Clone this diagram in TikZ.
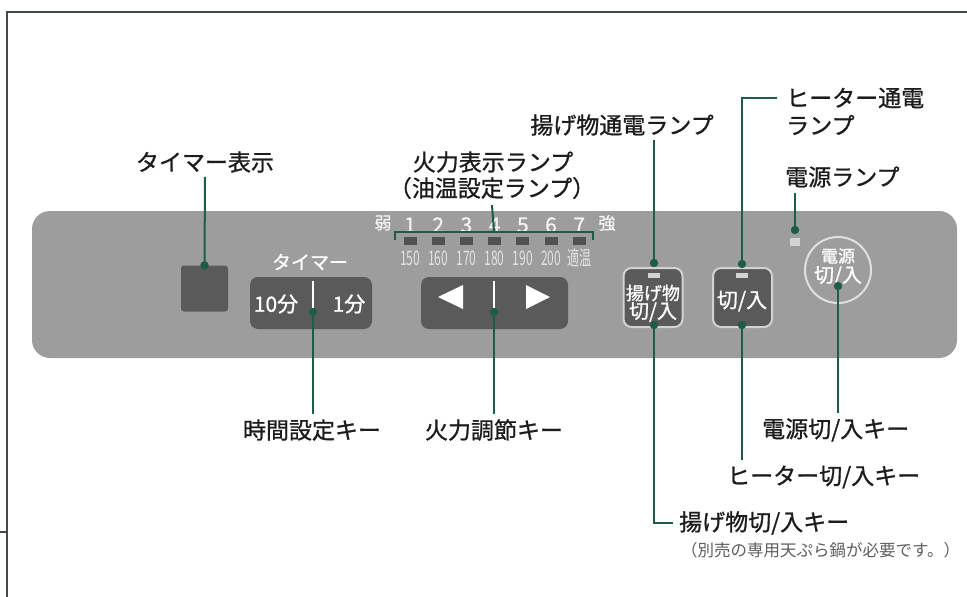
\documentclass[tikz,border=0pt]{standalone}
\usepackage{fontspec}
\setmainfont{Noto Sans CJK JP}[FakeBold=0.9]
\newfontfamily\plainjp{Noto Sans CJK JP}
\usepackage{graphicx}
\definecolor{panelc}{HTML}{9D9D9D}
\definecolor{btnc}{HTML}{5A5A5A}
\definecolor{framec}{HTML}{3F4D48}
\definecolor{connc}{HTML}{1E5C46}
\definecolor{lampc}{HTML}{D2D2D2}
\definecolor{txtc}{HTML}{1C1C1C}
\definecolor{notec}{HTML}{5E5E5E}
\definecolor{tempc}{HTML}{E2E2E2}
\newcommand{\fs}[1]{\fontsize{#1}{#1}\selectfont}
\begin{document}
\begin{tikzpicture}[x=1pt,y=-1pt,
  framel/.style={draw=framec, line width=2.2pt},
  conn/.style={draw=connc, line width=2pt},
  lbl/.style={inner sep=0pt, text=txtc, font=\fs{23}},
  wtxt/.style={inner sep=0pt, text=white},
  btnbox/.style={fill=btnc, rounded corners=8pt, inner sep=0pt},
  litbtn/.style={fill=btnc, draw=lampc, line width=2pt, rounded corners=8pt, inner sep=0pt, minimum width=59pt, minimum height=59pt},
  lampsq/.style={fill=btnc!90!black, inner sep=0pt, minimum width=13pt, minimum height=8pt},
  litlamp/.style={fill=lampc, inner sep=0pt, minimum width=12pt, minimum height=5pt},
  numtxt/.style={inner sep=0pt, text=white!95!black, font=\fs{21}},
  temptxt/.style={inner sep=0pt, text=tempc, font=\plainjp\fs{20}},
  dotc/.style={fill=connc}
]
\useasboundingbox (0,0) rectangle (967,597);
\fill[white] (0,0) rectangle (967,597);
% frame
\draw[framel] (967,12) -- (7,12) -- (7,597);
\draw[framel] (0,532) -- (7,532);
% panel
\fill[panelc, rounded corners=18pt] (32,211) rectangle (957,358);

% timer display
\node[fill=btnc, rounded corners=3pt, inner sep=0pt, minimum width=47pt, minimum height=46pt] (tdisp) at (204.5,288.5) {};

% timer keys
\node[wtxt, font=\fs{19}] (timerttl) at (310,262) {タイマー};
\node[btnbox, minimum width=122pt, minimum height=52pt] (tbtn) at (311,303) {};
\node[wtxt, font=\fs{21}] (t10) at (276,304) {10分};
\node[wtxt, font=\fs{21}] (t1) at (349,304) {1分};
\draw[white, line width=1.6pt] (313,281) -- (313,310);
\coordinate (tbDot) at (313,312);

% fire keys
\node[btnbox, minimum width=147pt, minimum height=52pt] (fbtn) at (494.5,303) {};
\fill[white] (438,297) -- (463,285) -- (463,309) -- cycle;
\fill[white] (550,297) -- (526,285) -- (526,309) -- cycle;
\draw[white, line width=1.6pt] (494,281) -- (494,310);
\coordinate (fbDot) at (494,312);

% power level lamps
\node[numtxt, font=\fs{17}] (weak) at (383,223) {弱};
\node[numtxt, font=\fs{17}] (strong) at (607,223) {強};
\foreach \i/\t [count=\k from 0] in {1/150,2/160,3/170,4/180,5/190,6/200,7/適温}{
  \pgfmathsetmacro{\xx}{410+28.2*\k}
  \node[numtxt] (n\i) at (\xx,225) {\i};
  \node[lampsq] (lamp\i) at (\xx,241) {};
  \node[temptxt] (tp\i) at (\xx,258) {\scalebox{0.6}[1]{\t}};
}
\coordinate (brL) at (395,240);
\coordinate (brR) at (593,240);
\coordinate (brM) at (494,232);
\draw[conn] (brL) -- (brL |- brM) -- (brR |- brM) -- (brR);

% fry button
\node[litbtn] (agebtn) at (653,297.5) {};
\node[litlamp] (agelamp) at (654,275) {};
\node[wtxt, font=\fs{18}] (agetxt1) at (653,293) {揚げ物};
\node[wtxt, font=\fs{20}] (agetxt2) at (653,312) {切/入};
\coordinate (ageTop) at (654,263);
\coordinate (ageBot) at (654,325);

% heater button
\node[litbtn] (heatbtn) at (742.5,297.5) {};
\node[litlamp] (heatlamp) at (742,275) {};
\node[wtxt, font=\fs{21}] (heattxt) at (742,301) {切/入};
\coordinate (heatTop) at (742,264);
\coordinate (heatBot) at (742,325);

% power
\node[fill=lampc, inner sep=0pt, minimum width=10pt, minimum height=8pt] (pwlamp) at (795,242) {};
\coordinate (pwlDot) at (795,230);
\node[circle, draw=white!88!black, fill=panelc, line width=2pt, minimum size=66pt, inner sep=0pt] (pwbtn) at (838,270) {};
\node[wtxt, font=\fs{17}] (pwtxt1) at (838,256) {電源};
\node[wtxt, font=\fs{20}] (pwtxt2) at (838,276) {切/入};
\coordinate (pwDot) at (838,286);

% top labels
\node[lbl] (lTimerDisp) at (205,162) {タイマー表示};
\node[lbl] (lFire1) at (493,162) {火力表示ランプ};
\node[lbl] (lFire2) at (492,188) {（油温設定ランプ）};
\node[lbl] (lAgeLamp) at (622,125) {揚げ物通電ランプ};
\node[lbl, anchor=west] (lHeatLamp1) at (786,98) {ヒーター通電};
\node[lbl, anchor=west] (lHeatLamp2) at (786,125) {ランプ};
\node[lbl, anchor=west] (lPwLamp) at (785,177) {電源ランプ};

% bottom labels
\node[lbl] (lTime) at (312,430) {時間設定キー};
\node[lbl] (lFire) at (494,430) {火力調節キー};
\node[lbl, anchor=west] (lPw) at (762,430) {電源切/入キー};
\node[lbl, anchor=west] (lHeat) at (727,477) {ヒーター切/入キー};
\node[lbl, anchor=west] (lAge) at (679,523) {揚げ物切/入キー};
\node[inner sep=0pt, text=notec, font=\plainjp\fs{16.5}, anchor=west] (lNote) at (681,550) {（別売の専用天ぷら鍋が必要です。）};

% connectors
\draw[conn] (lTimerDisp.south) ++(0,4) -- (tdisp.north);
\fill[dotc] (tdisp.north) circle (4.2);
\draw[conn] (lFire2.south) ++(0,6) -- (brM);
\draw[conn] (lAgeLamp.south -| ageTop) ++(0,4) -- (ageTop);
\fill[dotc] (ageTop) circle (4.2);
\draw[conn] (lHeatLamp1.west) ++(-9,0) -| (heatTop);
\fill[dotc] (heatTop) circle (4.2);
\draw[conn] (lPwLamp.south -| pwlDot) ++(0,5) -- (pwlDot);
\fill[dotc] (pwlDot) circle (4.2);

\draw[conn] (tbDot) -- ([yshift=5pt]tbDot |- lTime.north);
\fill[dotc] (tbDot) circle (4.2);
\draw[conn] (fbDot) -- ([yshift=5pt]fbDot |- lFire.north);
\fill[dotc] (fbDot) circle (4.2);
\draw[conn] (ageBot) |- ([xshift=-6pt]lAge.west);
\fill[dotc] (ageBot) circle (4.2);
\draw[conn] (heatBot) -- ([yshift=5pt]heatBot |- lHeat.north);
\fill[dotc] (heatBot) circle (4.2);
\draw[conn] (pwDot) -- ([yshift=5pt]pwDot |- lPw.north);
\fill[dotc] (pwDot) circle (4.2);
\end{tikzpicture}
\end{document}
